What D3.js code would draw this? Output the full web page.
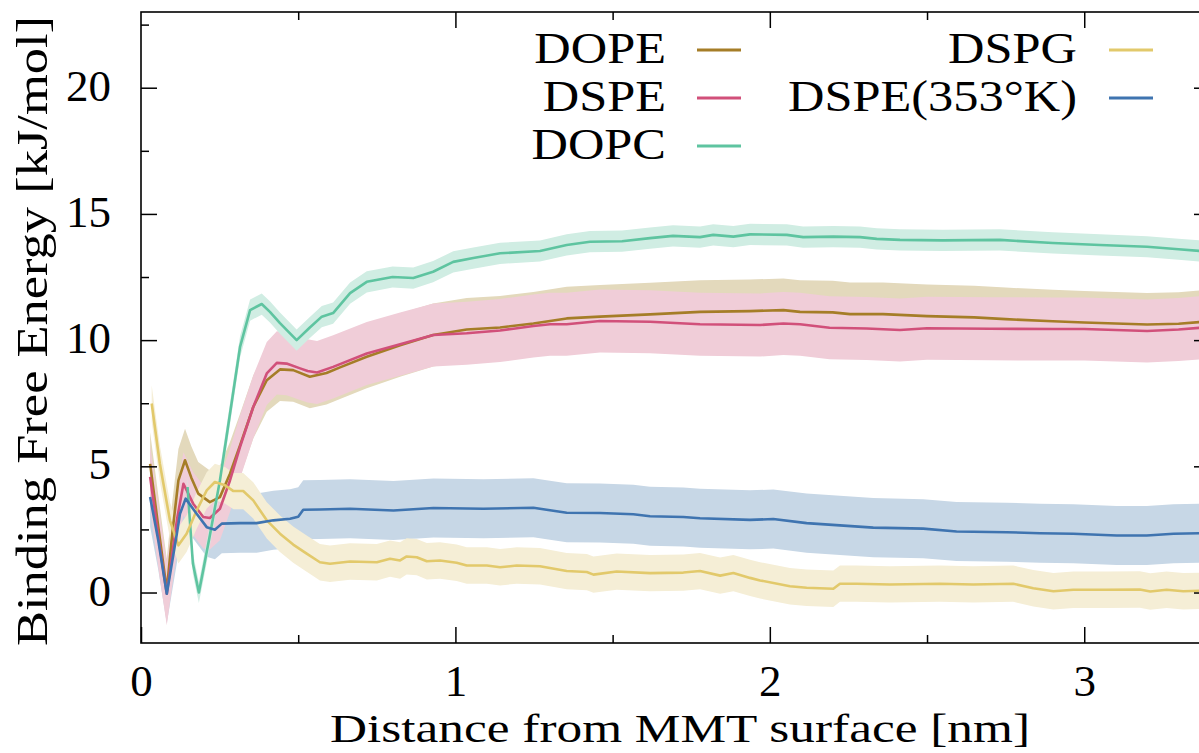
<!DOCTYPE html>
<html><head><meta charset="utf-8">
<script src="https://cdn.jsdelivr.net/npm/d3@7"></script>
<style>body{margin:0;background:#fff}svg{display:block}text{font-family:"Liberation Serif","Times New Roman",serif;fill:#000}</style>
</head><body><div id="chart"></div>
<script>
// ---- data ----
const seriesNames = ["DOPE","DSPE","DOPC","DSPG","DSPE(353°K)"];
const lineColors = ["#a57d27","#d1507a","#5ec4a0","#e2c96b","#3f74b0"];
const bandColors = ["#e3d9bc","#f0cdd8","#d0ede3","#f5eed6","#c7d7e6"];
const errors = [1.25,1.25,0.42,0.72,1.17];

const dopeX = [0.029,0.055,0.082,0.100,0.119,0.14,0.16,0.182,0.219,0.251,0.283,0.315,0.357,0.4,0.442,0.484,0.537,0.59,0.633,0.718,0.824,0.929,1.036,1.142,1.248,1.354,1.46,1.619,1.778,1.937,2.043,2.096,2.2,2.255,2.36,2.5,2.65,2.75,2.9,3.0,3.1,3.2,3.3,3.4];
const dopeY = [5.1,2.6,0.08,2.4,4.44,5.24,4.55,3.92,3.58,3.78,4.71,5.83,7.35,8.41,8.84,8.81,8.55,8.7,8.92,9.34,9.8,10.2,10.42,10.5,10.66,10.86,10.93,11.02,11.12,11.15,11.19,11.12,11.1,11.03,11.03,10.95,10.9,10.83,10.75,10.7,10.66,10.62,10.65,10.75];

const dspeX = [0.029,0.06,0.082,0.114,0.135,0.166,0.198,0.219,0.251,0.283,0.315,0.357,0.4,0.432,0.463,0.506,0.53,0.56,0.611,0.718,0.824,0.93,1.036,1.142,1.248,1.301,1.354,1.46,1.619,1.778,1.969,2.043,2.096,2.19,2.308,2.414,2.5,2.7,2.9,3.0,3.1,3.2,3.3,3.4];
const dspeY = [4.58,1.8,-0.05,2.86,4.31,3.52,2.99,2.95,3.32,4.44,5.77,7.35,8.68,9.1,9.07,8.88,8.78,8.72,8.94,9.47,9.84,10.2,10.27,10.38,10.56,10.63,10.63,10.76,10.73,10.63,10.6,10.66,10.63,10.49,10.46,10.4,10.47,10.45,10.44,10.44,10.4,10.36,10.42,10.52];

const dopcX = [0.148,0.165,0.184,0.2,0.22,0.251,0.28,0.315,0.347,0.384,0.41,0.442,0.495,0.537,0.575,0.611,0.665,0.718,0.80,0.866,0.929,0.993,1.057,1.142,1.269,1.354,1.428,1.53,1.619,1.692,1.778,1.82,1.884,1.937,2.054,2.106,2.202,2.287,2.34,2.414,2.55,2.732,2.9,3.05,3.2,3.3,3.4];
const dopcY = [4.18,1.15,0.0,1.02,2.33,4.44,6.83,9.73,11.19,11.43,11.12,10.67,10.0,10.5,10.93,11.07,11.86,12.31,12.5,12.46,12.71,13.1,13.25,13.44,13.53,13.77,13.9,13.92,14.04,14.13,14.08,14.17,14.1,14.19,14.17,14.08,14.1,14.08,14.01,13.97,13.95,13.97,13.85,13.77,13.7,13.6,13.5];

const dspgX = [0.034,0.06,0.092,0.119,0.145,0.177,0.209,0.235,0.267,0.294,0.325,0.357,0.4,0.442,0.484,0.527,0.569,0.601,0.665,0.75,0.792,0.824,0.845,0.877,0.909,0.951,1.004,1.036,1.1,1.142,1.195,1.269,1.354,1.418,1.439,1.513,1.619,1.725,1.778,1.842,1.884,1.937,1.969,2.064,2.117,2.202,2.223,2.276,2.382,2.541,2.647,2.774,2.838,2.902,2.965,3.07,3.177,3.21,3.262,3.315,3.4];
const dspgY = [7.49,5.1,2.86,1.87,2.33,3.25,4.05,4.38,4.25,4.02,4.02,3.65,2.86,2.33,1.9,1.54,1.2,1.14,1.23,1.2,1.34,1.27,1.43,1.4,1.24,1.27,1.18,1.07,1.07,1.0,1.07,1.04,0.85,0.81,0.71,0.83,0.77,0.79,0.85,0.67,0.77,0.58,0.48,0.25,0.19,0.15,0.35,0.35,0.32,0.35,0.32,0.35,0.17,0.05,0.11,0.11,0.12,0.04,0.11,0.05,0.08];

const dspe353X = [0.029,0.055,0.082,0.114,0.124,0.142,0.177,0.209,0.235,0.257,0.315,0.368,0.421,0.474,0.5,0.516,0.569,0.665,0.803,0.93,1.089,1.248,1.29,1.354,1.46,1.566,1.619,1.725,1.778,1.937,2.011,2.117,2.223,2.329,2.488,2.594,2.753,2.859,2.965,3.103,3.199,3.284,3.4];
const dspe353Y = [3.78,2.06,-0.05,2.33,3.12,3.72,3.12,2.59,2.49,2.73,2.75,2.75,2.86,2.92,3.0,3.28,3.29,3.32,3.25,3.35,3.32,3.36,3.28,3.16,3.15,3.1,3.02,2.99,2.94,2.88,2.91,2.75,2.66,2.57,2.53,2.42,2.39,2.35,2.33,2.26,2.26,2.33,2.36];

const xTicks = [0,1,2,3];
const xMinor = [0.5,1.5,2.5];
const yTicks = [0,5,10,15,20];
const yMinor = [2.5,7.5,12.5,17.5,22.5];
const xTitle = "Distance from MMT surface [nm]";
const yTitle = "Binding Free Energy [kJ/mol]";

// ---- chart ----
const W = 1199, H = 753;
const L = 141, R = 1210, T = 12, B = 643;
const FS = 45;
const x = d3.scaleLinear().domain([0, 3.4]).range([L, R]);
const y = d3.scaleLinear().domain([-2, 23]).range([B, T]);

const svg = d3.select("#chart").append("svg").attr("width", W).attr("height", H);
svg.append("defs").append("clipPath").attr("id","clip")
  .append("rect").attr("x", L).attr("y", T).attr("width", R - L).attr("height", B - T);

const allX = [dopeX, dspeX, dopcX, dspgX, dspe353X];
const allY = [dopeY, dspeY, dopcY, dspgY, dspe353Y];
const series = seriesNames.map((n, i) => ({
  name: n, color: lineColors[i], band: bandColors[i], err: errors[i],
  pts: allX[i].map((v, j) => ({x: v, y: allY[i][j]}))
}));

const plot = svg.append("g").attr("clip-path", "url(#clip)");
const area = e => d3.area().x(d => x(d.x)).y0(d => y(d.y - e)).y1(d => y(d.y + e));
const line = d3.line().x(d => x(d.x)).y(d => y(d.y));

const bandOrder = [4, 0, 1, 2, 3];
bandOrder.forEach(i => {
  const s = series[i];
  plot.append("path").attr("d", area(s.err)(s.pts)).attr("fill", s.band).attr("stroke", "none");
});
[0, 1, 2, 3, 4].forEach(i => {
  const s = series[i];
  plot.append("path").attr("d", line(s.pts)).attr("fill", "none")
    .attr("stroke", s.color).attr("stroke-width", 2.6).attr("stroke-linejoin", "round");
});

// axes
function styleAxis(g) {
  g.select(".domain").remove();
  g.selectAll("line").attr("stroke", "#000").attr("stroke-width", 1.5);
  g.selectAll("text").attr("font-size", FS).attr("font-family", "Liberation Serif").attr("fill", "#000");
}
svg.append("g").attr("transform", `translate(${L},0)`)
  .call(d3.axisLeft(y).tickValues(yTicks).tickSize(-16).tickPadding(30).tickFormat(d3.format("d")))
  .call(styleAxis).call(g => g.selectAll("text").attr("dy", "0.28em"));
svg.append("g").attr("transform", `translate(${L},0)`)
  .call(d3.axisLeft(y).tickValues(yMinor).tickSize(-8).tickFormat(""))
  .call(styleAxis);
svg.append("g").attr("transform", `translate(${R},0)`)
  .call(d3.axisRight(y).tickValues(yTicks).tickSize(-16).tickFormat(""))
  .call(styleAxis);
svg.append("g").attr("transform", `translate(${R},0)`)
  .call(d3.axisRight(y).tickValues(yMinor).tickSize(-8).tickFormat(""))
  .call(styleAxis);
svg.append("g").attr("transform", `translate(0,${B})`)
  .call(d3.axisBottom(x).tickValues(xTicks).tickSize(-16).tickPadding(21).tickFormat(d3.format("d")))
  .call(styleAxis);
svg.append("g").attr("transform", `translate(0,${B})`)
  .call(d3.axisBottom(x).tickValues(xMinor).tickSize(-8).tickFormat(""))
  .call(styleAxis);
svg.append("g").attr("transform", `translate(0,${T})`)
  .call(d3.axisTop(x).tickValues(xTicks.filter(v => v > 0)).tickSize(-16).tickFormat(""))
  .call(styleAxis);
svg.append("g").attr("transform", `translate(0,${T})`)
  .call(d3.axisTop(x).tickValues(xMinor).tickSize(-8).tickFormat(""))
  .call(styleAxis);

svg.append("rect").attr("x", L).attr("y", T).attr("width", R - L).attr("height", B - T)
  .attr("fill", "none").attr("stroke", "#000").attr("stroke-width", 1.6);

// titles
svg.append("text").attr("x", 680).attr("y", 742).attr("text-anchor", "middle")
  .attr("font-size", 40).attr("textLength", 700).attr("lengthAdjust", "spacingAndGlyphs").text(xTitle);
svg.append("text").attr("transform", "translate(47,331) rotate(-90)").attr("text-anchor", "middle")
  .attr("font-size", 45).attr("textLength", 630).attr("lengthAdjust", "spacingAndGlyphs").text(yTitle);

// legend
const legendPos = [
  {tx: 666, ly: 50, x0: 697, x1: 741},
  {tx: 666, ly: 98, x0: 697, x1: 741},
  {tx: 666, ly: 146, x0: 697, x1: 741},
  {tx: 1077, ly: 50, x0: 1109, x1: 1153},
  {tx: 1077, ly: 98, x0: 1109, x1: 1153}
];
series.forEach((s, i) => {
  const p = legendPos[i];
  const t = svg.append("text").attr("x", p.tx).attr("y", p.ly + 13).attr("text-anchor", "end")
    .attr("font-size", FS).text(s.name);
  const w = t.node().getComputedTextLength();
  t.attr("textLength", w * 1.12).attr("lengthAdjust", "spacingAndGlyphs");
  svg.append("line").attr("x1", p.x0).attr("x2", p.x1).attr("y1", p.ly).attr("y2", p.ly)
    .attr("stroke", s.color).attr("stroke-width", 3);
});
</script></body></html>
